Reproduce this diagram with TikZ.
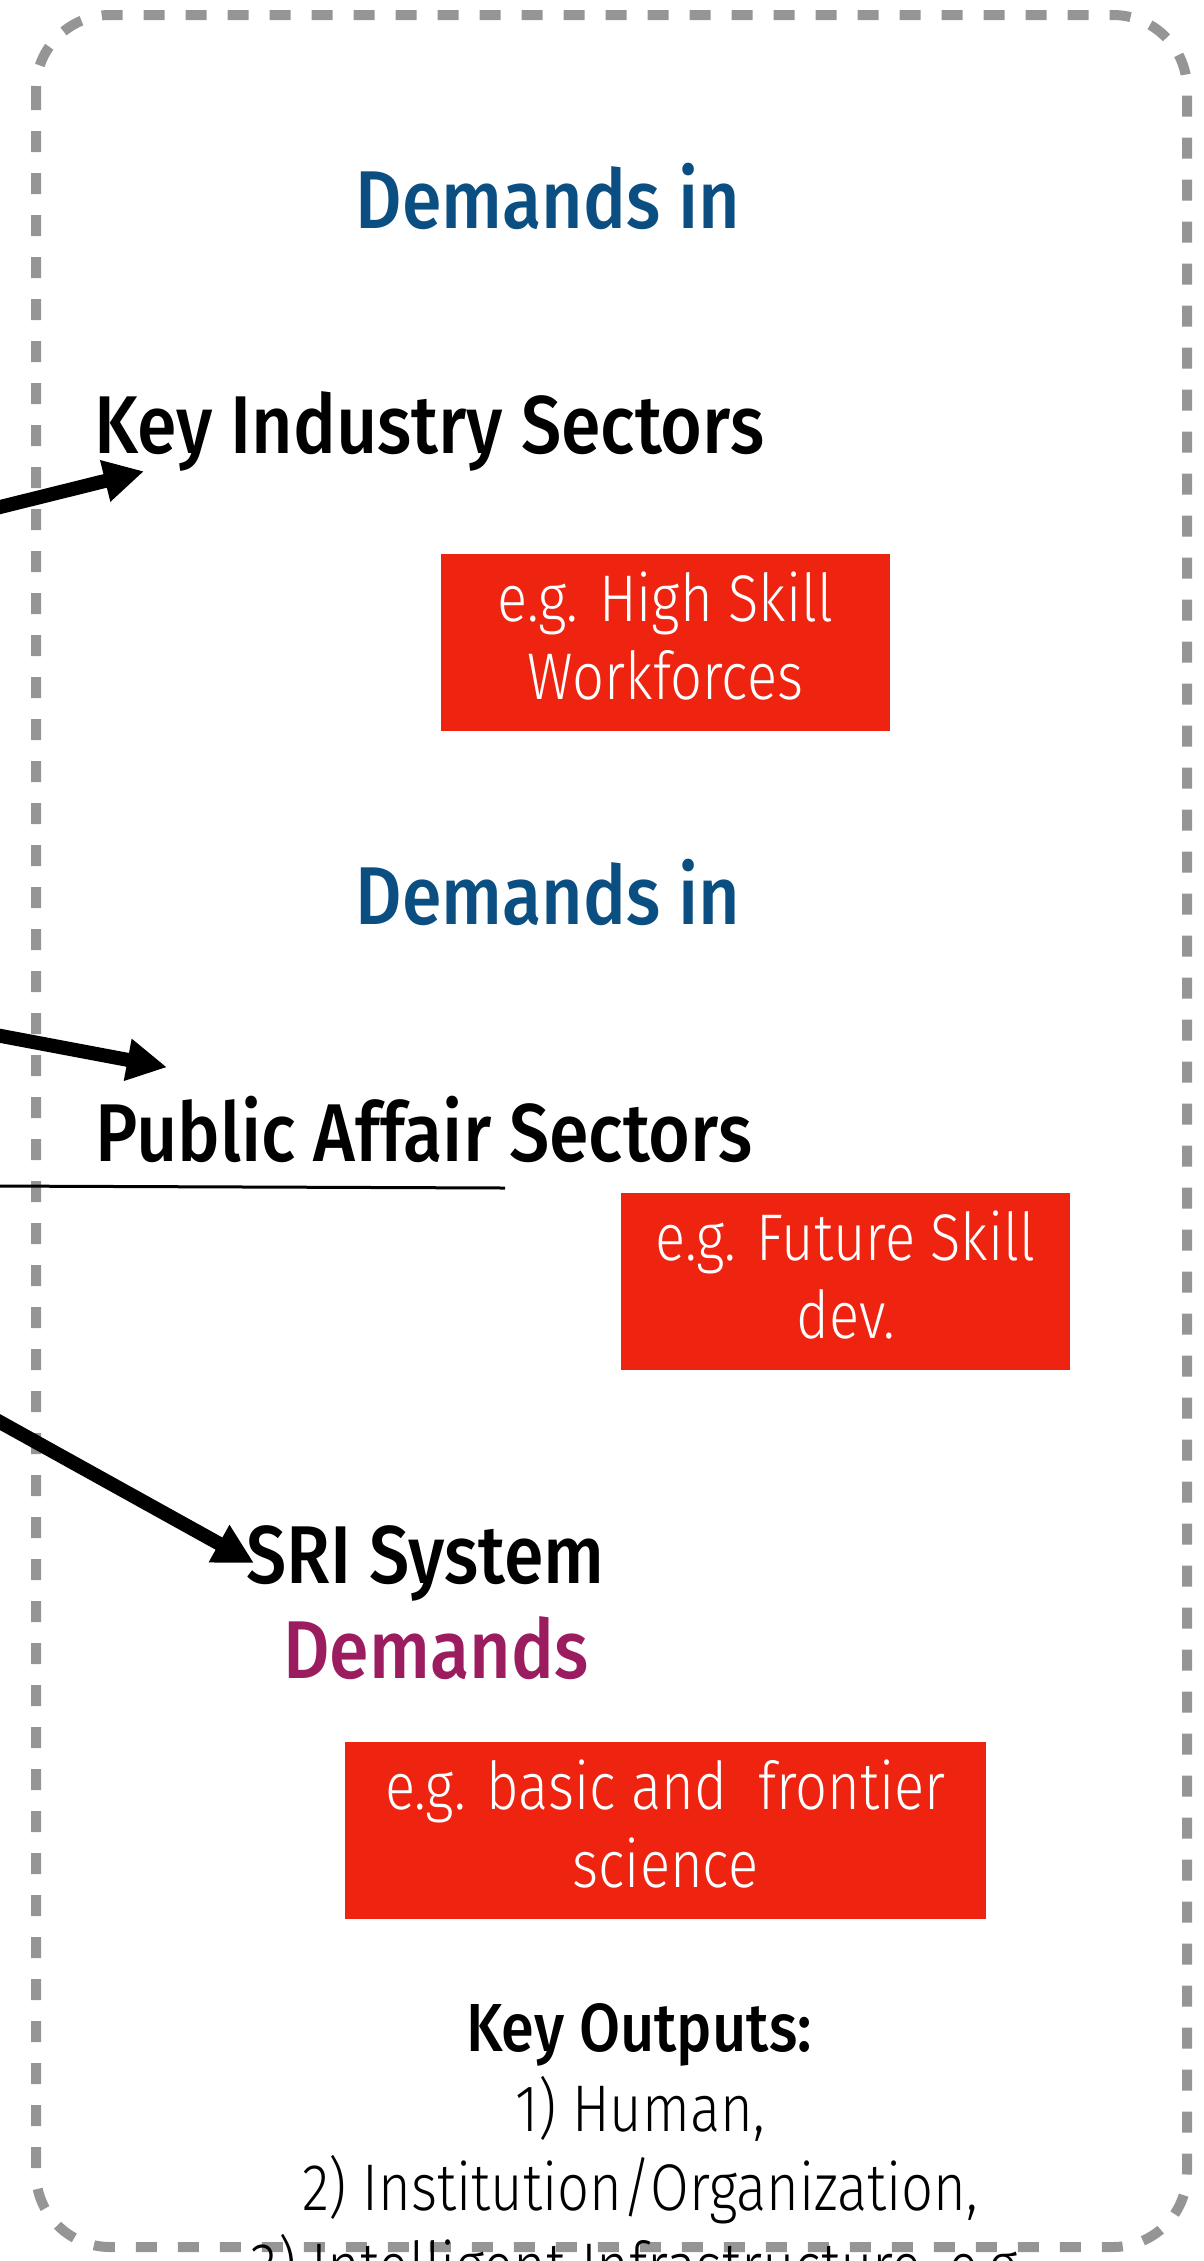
\documentclass[tikz,border=0pt]{standalone}
\usepackage{fontspec}
\setmainfont{Fira Sans Light}[FakeStretch=0.85]
\newfontfamily\headfont{Fira Sans Medium}[FakeStretch=0.875]
\usepackage{tikz}
\usetikzlibrary{arrows.meta,positioning}
\definecolor{demblue}{RGB}{10,78,130}
\definecolor{dempurple}{RGB}{155,28,95}
\definecolor{egred}{RGB}{238,35,16}
\definecolor{framegray}{RGB}{149,149,149}

\begin{document}
\begin{tikzpicture}[x=0.5pt,y=-0.5pt,>={Triangle[length=20pt,width=20pt]}]
\tikzstyle{head}=[inner sep=0pt,font=\fontsize{41}{48}\headfont]
\tikzstyle{egbox}=[fill=egred,text=white,align=center,inner sep=0pt,text depth=7pt,minimum height=88.5pt,font=\fontsize{33}{39}\selectfont]
\tikzstyle{output}=[inner sep=0pt,anchor=base,font=\fontsize{33}{39.5}\selectfont]
\tikzstyle{feed}=[->,line width=7pt]
\clip (0,0) rectangle (1204,2261);
% dashed frame
\draw[framegray,line width=5pt,dash pattern=on 10.5pt off 10.5pt,rounded corners=37pt] (36,15) rectangle (1187,2247);
% sectors
\node[head,text=demblue,anchor=base] (dem1) at (548,228) {Demands in};
\node[head,anchor=base west] (kis) at (94,453) {Key Industry Sectors};
\node[egbox,minimum width=224.5pt] (hsw) at (665.5,642.5) {e.g. High Skill\\Workforces};
\node[head,text=demblue,anchor=base] (dem2) at (548,924) {Demands in};
\node[head,anchor=base west] (pas) at (95,1161) {Public Affair Sectors};
\node[egbox,minimum width=224.5pt] (fsd) at (845.5,1281.5) {e.g. Future Skill\\dev.};
\node[head,anchor=base west] (sri) at (246,1583) {SRI System};
\node[head,text=dempurple,anchor=base west] (dem3) at (283,1678) {Demands};
\node[egbox,minimum width=320.5pt] (bfs) at (665.5,1830.5) {e.g. basic and\ \ frontier\\science};
% outputs
\node[output,font=\fontsize{34}{39.5}\headfont] (kout) at (639,2051) {Key Outputs:};
\node[output] (out1) at (640,2131) {1) Human,};
\node[output] (out2) at (640,2210) {2) Institution/Organization,};
\node[output] (out3) at (640,2289) {3) Intelligent Infrastructure, e.g.};
% incoming arrows
\coordinate (kisin) at (-20,512);
\coordinate (pasin) at (-20,1032);
\coordinate (sriin) at (-20,1411);
\draw[feed] (kisin) -- ([xshift=25pt]kis.south west);
\draw[feed] (pasin) -- ([xshift=36pt,yshift=14pt]pas.north west);
\draw[feed] (sriin) -- ([xshift=4pt]sri.west);
% rule under public affair
\coordinate (ruleL) at (-10,1186);
\coordinate (ruleR) at (505,1188);
\draw[line width=1.5pt] (ruleL) -- (ruleR);
\end{tikzpicture}
\end{document}
